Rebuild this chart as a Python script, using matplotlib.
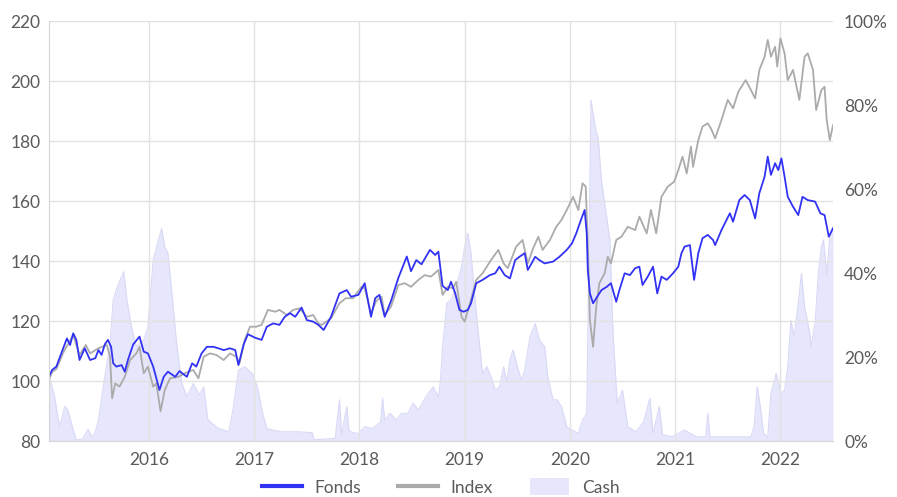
import matplotlib
matplotlib.use("Agg")
import matplotlib.pyplot as plt
from matplotlib.lines import Line2D
from matplotlib.patches import Patch

# decimal years / values
fonds_t = [2015.05, 2015.08, 2015.12, 2015.19, 2015.22, 2015.25, 2015.28, 2015.31, 2015.34, 2015.39,
           2015.44, 2015.49, 2015.52, 2015.55, 2015.58, 2015.61, 2015.64, 2015.66, 2015.69, 2015.74,
           2015.77, 2015.80, 2015.85, 2015.91, 2015.95, 2015.99, 2016.04, 2016.10, 2016.14, 2016.18,
           2016.25, 2016.29, 2016.36, 2016.41, 2016.45, 2016.50, 2016.55, 2016.61, 2016.66, 2016.71,
           2016.77, 2016.82, 2016.85, 2016.90, 2016.94, 2017.01, 2017.07, 2017.12, 2017.18, 2017.24,
           2017.29, 2017.34, 2017.39, 2017.45, 2017.50, 2017.56, 2017.61, 2017.66, 2017.73, 2017.81,
           2017.88, 2017.92, 2017.99, 2018.05, 2018.11, 2018.15, 2018.19, 2018.24, 2018.30, 2018.37,
           2018.45, 2018.49, 2018.54, 2018.59, 2018.67, 2018.72, 2018.75, 2018.79, 2018.84, 2018.87,
           2018.91, 2018.95, 2018.99, 2019.03, 2019.06, 2019.11, 2019.17, 2019.24, 2019.29, 2019.33,
           2019.38, 2019.43, 2019.48, 2019.52, 2019.57, 2019.60, 2019.67, 2019.71, 2019.76, 2019.84,
           2019.90, 2019.97, 2020.02, 2020.06, 2020.11, 2020.14, 2020.16, 2020.17, 2020.19, 2020.22,
           2020.25, 2020.30, 2020.35, 2020.39, 2020.44, 2020.47, 2020.52, 2020.57, 2020.62, 2020.66,
           2020.69, 2020.74, 2020.79, 2020.83, 2020.87, 2020.92, 2020.98, 2021.03, 2021.06, 2021.09,
           2021.14, 2021.18, 2021.22, 2021.26, 2021.31, 2021.36, 2021.38, 2021.44, 2021.52, 2021.55,
           2021.61, 2021.66, 2021.71, 2021.76, 2021.80, 2021.85, 2021.88, 2021.91, 2021.95, 2021.98,
           2022.01, 2022.04, 2022.07, 2022.12, 2022.17, 2022.21, 2022.26, 2022.33, 2022.38, 2022.42,
           2022.46, 2022.50]
fonds_v = [101.5, 103.7, 104.8, 111.4, 114.2, 112.0, 115.9, 113.7, 107.0, 110.9,
           107.0, 107.6, 110.3, 108.7, 112.2, 113.7, 111.4, 105.9, 104.8, 105.3,
           103.1, 107.0, 112.2, 114.8, 109.8, 109.2, 104.8, 97.0, 101.4, 103.1,
           101.4, 103.3, 101.4, 105.9, 104.8, 109.2, 111.4, 111.4, 110.9, 110.3,
           110.9, 110.3, 105.3, 112.2, 115.6, 114.4, 113.7, 118.1, 119.2, 118.7,
           121.4, 122.6, 121.4, 124.5, 120.3, 119.8, 118.7, 117.0, 121.4, 129.2,
           130.3, 128.1, 128.7, 132.6, 121.4, 127.6, 128.7, 121.4, 126.7, 134.4,
           141.5, 136.6, 140.3, 138.9, 143.7, 142.0, 143.1, 131.7, 130.3, 133.1,
           129.2, 123.7, 123.1, 123.7, 125.9, 132.6, 133.7, 135.3, 135.9, 138.1,
           135.3, 134.2, 140.3, 141.4, 142.6, 137.0, 141.4, 140.3, 139.2, 139.8,
           141.4, 143.7, 145.9, 149.2, 154.2, 157.0, 149.2, 137.0, 129.2, 125.9,
           127.6, 130.3, 131.4, 132.6, 126.4, 130.3, 135.9, 135.3, 137.6, 138.1,
           132.0, 134.8, 138.1, 129.2, 134.8, 133.7, 135.9, 138.1, 142.6, 144.8,
           145.3, 133.7, 142.6, 147.6, 148.7, 147.0, 145.3, 150.3, 155.9, 153.1,
           160.3, 162.0, 160.3, 154.2, 162.6, 168.1, 174.8, 168.7, 172.6, 170.3,
           174.2, 168.1, 161.4, 158.1, 155.3, 161.4, 160.3, 159.8, 155.9, 155.3,
           148.1, 150.9]

index_t = [2015.05, 2015.08, 2015.12, 2015.19, 2015.28, 2015.34, 2015.40, 2015.44, 2015.52, 2015.60,
           2015.63, 2015.65, 2015.68, 2015.72, 2015.77, 2015.82, 2015.88, 2015.91, 2015.95, 2015.99,
           2016.04, 2016.07, 2016.11, 2016.15, 2016.20, 2016.28, 2016.34, 2016.42, 2016.47, 2016.52,
           2016.58, 2016.64, 2016.71, 2016.77, 2016.83, 2016.86, 2016.91, 2016.96, 2017.02, 2017.07,
           2017.13, 2017.20, 2017.24, 2017.31, 2017.37, 2017.43, 2017.50, 2017.56, 2017.61, 2017.64,
           2017.73, 2017.81, 2017.87, 2017.94, 2018.02, 2018.05, 2018.11, 2018.16, 2018.21, 2018.24,
           2018.30, 2018.37, 2018.43, 2018.49, 2018.56, 2018.62, 2018.68, 2018.75, 2018.79, 2018.84,
           2018.89, 2018.92, 2018.97, 2019.00, 2019.05, 2019.11, 2019.17, 2019.25, 2019.32, 2019.37,
           2019.41, 2019.49, 2019.55, 2019.60, 2019.65, 2019.70, 2019.74, 2019.81, 2019.87, 2019.92,
           2019.97, 2020.03, 2020.08, 2020.12, 2020.15, 2020.17, 2020.19, 2020.22, 2020.25, 2020.28,
           2020.33, 2020.36, 2020.39, 2020.44, 2020.49, 2020.55, 2020.62, 2020.66, 2020.73, 2020.77,
           2020.82, 2020.87, 2020.93, 2020.99, 2021.03, 2021.07, 2021.11, 2021.15, 2021.17, 2021.22,
           2021.26, 2021.31, 2021.34, 2021.38, 2021.44, 2021.50, 2021.55, 2021.60, 2021.67, 2021.72,
           2021.76, 2021.80, 2021.85, 2021.88, 2021.91, 2021.95, 2021.97, 2022.00, 2022.04, 2022.07,
           2022.12, 2022.18, 2022.23, 2022.26, 2022.31, 2022.34, 2022.39, 2022.42, 2022.44, 2022.47,
           2022.50]
index_v = [100.5, 103.0, 104.0, 109.8, 115.3, 108.7, 112.0, 109.2, 110.9, 112.0,
           108.1, 94.2, 99.2, 98.1, 101.4, 107.0, 109.2, 111.4, 102.6, 104.8,
           98.1, 99.2, 89.9, 97.0, 100.9, 101.4, 102.6, 103.7, 100.9, 108.1,
           109.2, 108.7, 107.0, 109.2, 108.1, 105.9, 113.7, 118.1, 118.1, 118.7,
           123.7, 123.1, 123.7, 122.0, 123.7, 124.2, 121.4, 122.0, 119.2, 118.7,
           120.9, 125.9, 127.6, 127.6, 131.4, 130.9, 122.6, 126.7, 128.1, 122.0,
           124.8, 132.0, 132.6, 131.4, 133.7, 135.3, 134.8, 137.0, 128.7, 131.4,
           130.9, 133.1, 121.4, 119.8, 125.9, 133.7, 135.9, 140.3, 143.7, 139.2,
           137.6, 144.8, 147.0, 139.2, 144.2, 148.1, 143.7, 147.0, 151.4, 153.7,
           157.0, 161.4, 157.0, 165.9, 164.8, 145.9, 120.3, 111.4, 124.8, 132.6,
           135.9, 141.4, 139.2, 147.0, 148.1, 151.4, 150.3, 154.8, 149.2, 157.0,
           149.2, 161.4, 164.8, 166.4, 170.3, 174.8, 169.2, 178.1, 171.4, 180.3,
           184.8, 185.9, 184.2, 180.9, 187.0, 193.7, 190.9, 196.4, 200.3, 197.0,
           194.2, 203.7, 208.1, 213.7, 208.1, 211.4, 204.8, 214.2, 209.2, 200.3,
           203.7, 193.7, 208.1, 209.2, 203.7, 190.3, 197.0, 198.1, 187.0, 180.3,
           185.3]

cash_t = [2015.05, 2015.10, 2015.15, 2015.20, 2015.23, 2015.28, 2015.31, 2015.37, 2015.42, 2015.46,
          2015.49, 2015.52, 2015.57, 2015.63, 2015.66, 2015.71, 2015.76, 2015.79, 2015.84, 2015.88,
          2015.95, 2015.99, 2016.04, 2016.09, 2016.12, 2016.15, 2016.18, 2016.23, 2016.26, 2016.31,
          2016.36, 2016.42, 2016.48, 2016.52, 2016.56, 2016.66, 2016.76, 2016.80, 2016.85, 2016.91,
          2016.98, 2017.03, 2017.08, 2017.12, 2017.18, 2017.26, 2017.40, 2017.55, 2017.57, 2017.70,
          2017.77, 2017.81, 2017.83, 2017.88, 2017.90, 2017.93, 2017.99, 2018.05, 2018.12, 2018.20,
          2018.22, 2018.24, 2018.29, 2018.35, 2018.40, 2018.46, 2018.51, 2018.56, 2018.63, 2018.70,
          2018.75, 2018.77, 2018.79, 2018.83, 2018.87, 2018.92, 2018.97, 2019.00, 2019.03, 2019.06,
          2019.11, 2019.14, 2019.17, 2019.21, 2019.25, 2019.29, 2019.33, 2019.37, 2019.40, 2019.43,
          2019.46, 2019.51, 2019.54, 2019.57, 2019.62, 2019.67, 2019.71, 2019.76, 2019.79, 2019.84,
          2019.88, 2019.92, 2019.97, 2020.02, 2020.08, 2020.12, 2020.16, 2020.18, 2020.20, 2020.24,
          2020.27, 2020.30, 2020.38, 2020.41, 2020.45, 2020.50, 2020.55, 2020.63, 2020.70, 2020.76,
          2020.79, 2020.85, 2020.88, 2020.97, 2021.09, 2021.20, 2021.29, 2021.31, 2021.33, 2021.45,
          2021.60, 2021.72, 2021.75, 2021.78, 2021.81, 2021.84, 2021.88, 2021.91, 2021.96, 2022.01,
          2022.04, 2022.07, 2022.10, 2022.13, 2022.17, 2022.20, 2022.23, 2022.28, 2022.29, 2022.33,
          2022.36, 2022.39, 2022.41, 2022.44, 2022.47, 2022.50]
cash_v = [15.5, 11.0, 3.4, 8.2, 7.4, 2.6, 0.2, 0.5, 2.8, 1.0,
          2.2, 5.0, 13.7, 23.3, 33.6, 37.5, 40.3, 33.6, 26.4, 22.5,
          24.0, 27.2, 43.1, 47.9, 50.6, 46.3, 44.7, 32.0, 24.0, 14.0,
          10.5, 13.7, 11.0, 12.9, 5.0, 3.0, 2.2, 7.8, 16.9, 17.7,
          16.1, 12.9, 6.6, 3.0, 2.6, 2.2, 2.2, 2.0, 0.3, 0.5,
          0.7, 9.8, 1.5, 8.2, 2.6, 2.0, 1.8, 3.4, 3.0, 4.5,
          10.2, 5.0, 6.6, 5.0, 6.6, 6.6, 9.0, 7.4, 10.5, 12.9,
          10.5, 14.5, 22.4, 32.8, 33.6, 36.7, 41.5, 46.3, 49.5, 44.7,
          30.4, 23.3, 16.1, 17.7, 15.3, 12.1, 12.9, 17.7, 14.0, 19.3,
          21.7, 16.9, 14.5, 16.9, 24.8, 28.0, 24.0, 22.5, 15.3, 9.8,
          9.8, 8.2, 3.4, 2.6, 1.8, 5.0, 6.6, 43.9, 81.2, 74.8,
          71.7, 62.0, 47.9, 25.6, 9.0, 12.1, 3.4, 2.2, 4.6, 10.2,
          1.8, 8.2, 1.5, 1.0, 2.6, 1.0, 1.0, 6.6, 1.0, 1.0,
          1.0, 1.0, 3.4, 12.9, 8.2, 1.8, 1.0, 11.3, 16.1, 11.3,
          12.1, 17.7, 28.8, 24.8, 32.8, 39.9, 32.0, 25.6, 22.4, 28.0,
          39.9, 46.3, 47.9, 39.5, 48.6, 51.0]

years = [2016, 2017, 2018, 2019, 2020, 2021, 2022]

blue = "#3232f5"
grey = "#ababab"
lav = "#e6e6fc"
txt = "#5a5a5a"

plt.rcParams["font.family"] = ["Lato", "DejaVu Sans"]

fig = plt.figure(figsize=(8.97, 4.97), dpi=100)
ax = fig.add_axes([49 / 897, 1 - 441 / 497, 784 / 897, 420 / 497])
ax2 = ax.twinx()
ax.set_zorder(2)
ax2.set_zorder(1)
ax.patch.set_visible(False)

ax2.fill_between(cash_t, cash_v, 0, color=lav, lw=0)
ax2.plot(cash_t, cash_v, color="#d9d9f7", lw=0.8)
ax2.set_ylim(0, 100)
ax2.set_yticks(range(0, 101, 20))
ax2.set_yticklabels([f"{v}%" for v in range(0, 101, 20)])

ax.plot(index_t, index_v, color=grey, lw=1.3)
ax.plot(fonds_t, fonds_v, color=blue, lw=1.3)
ax.set_ylim(80, 220)
ax.set_yticks(range(80, 221, 20))
ax.set_xlim(2015.05, 2022.50)
ax.set_xticks(years)
ax.set_xticklabels([str(y) for y in years])
ax.grid(True, color="#e2e2e2", lw=1)

for a in (ax, ax2):
    for s in a.spines.values():
        s.set_visible(False)
    a.tick_params(length=0, labelsize=12.5, labelcolor=txt)
ax.spines["left"].set_visible(True)
ax.spines["bottom"].set_visible(True)
ax.spines["left"].set_color("#d6d6d6")
ax.spines["bottom"].set_color("#d6d6d6")
ax.tick_params(axis="y", pad=6)
ax.tick_params(axis="x", pad=8)
ax2.tick_params(axis="y", pad=8)

handles = [Line2D([], [], color=blue, lw=3),
           Line2D([], [], color=grey, lw=3),
           Patch(facecolor=lav, edgecolor="none")]
ax.legend(handles, ["Fonds", "Index", "Cash"], loc="upper center",
          bbox_to_anchor=(0.5, -0.052), ncol=3, frameon=False,
          fontsize=12.5, labelcolor=txt, handlelength=2.3, handleheight=1.1,
          handletextpad=0.75, columnspacing=2.1)

fig.savefig("out.png", dpi=100)
